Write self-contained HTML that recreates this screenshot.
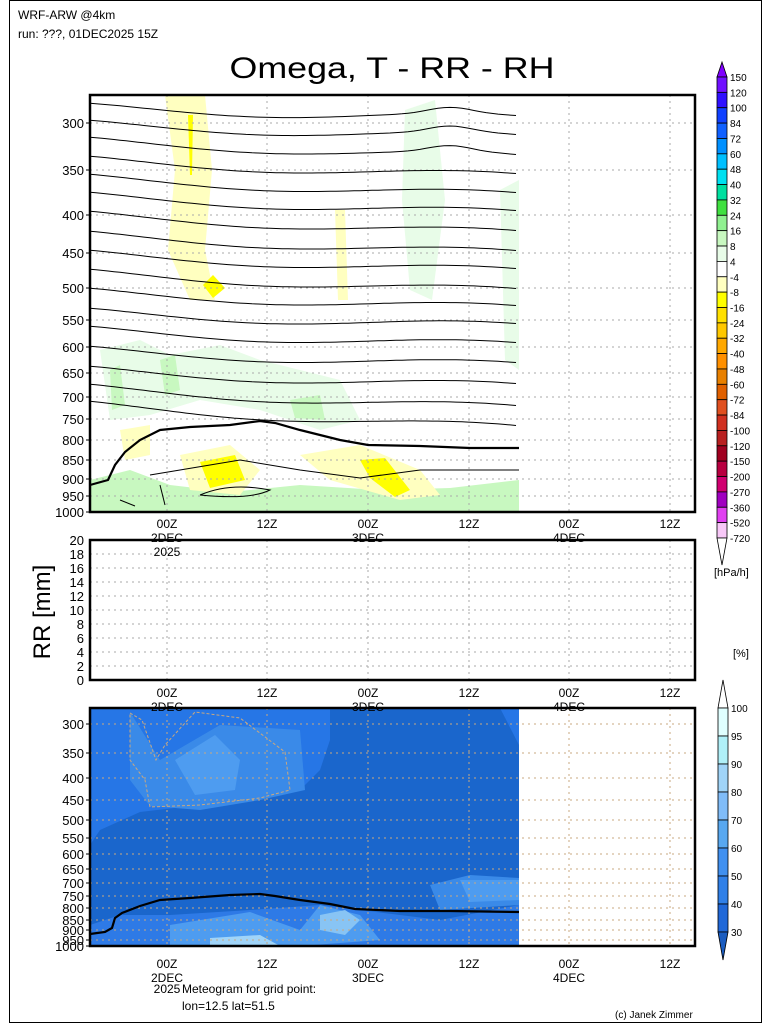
<!DOCTYPE html>
<html><head><meta charset="utf-8">
<style>
body{margin:0;background:#fff;}
svg{display:block;font-family:"Liberation Sans",sans-serif;}
text{fill:#000;}
</style></head><body>
<svg id="s" width="768" height="1024" viewBox="0 0 768 1024" xmlns="http://www.w3.org/2000/svg">
<rect x="9.5" y="0.5" width="752" height="1022" fill="#fff" stroke="#000" stroke-width="1"/>
<text x="18" y="19" font-size="12">WRF-ARW @4km</text>
<text x="18" y="38" font-size="12">run: ???, 01DEC2025 15Z</text>
<text x="392" y="78" font-size="30" text-anchor="middle" textLength="325" lengthAdjust="spacingAndGlyphs">Omega, T - RR - RH</text>

<g id="top">
<rect x="90" y="95" width="429" height="417" fill="#fff"/>
<polygon points="90,480 130,470 170,485 230,492 300,485 380,490 450,488 519,480 519,512 90,512" fill="#c8f8c0"/>
<polygon points="165,95 205,95 212,170 205,250 215,300 190,300 168,250 175,170" fill="#ffffc0"/>
<polygon points="188,115 193,115 192,175 190,175" fill="#ffff00"/>
<polygon points="203,285 213,275 225,288 213,298" fill="#ffff00"/>
<polygon points="405,110 435,100 445,200 432,300 410,290 402,200" fill="#e8fce8"/>
<polygon points="500,190 519,180 519,370 505,360" fill="#e8fce8"/>
<polygon points="335,210 345,210 348,300 338,300" fill="#ffffc0"/>
<polygon points="100,350 140,340 170,355 220,345 260,360 300,370 340,380 360,420 320,430 260,410 200,400 150,415 110,420" fill="#e8fce8"/>
<polygon points="110,370 120,365 125,405 112,410" fill="#c8f8c0"/>
<polygon points="160,360 175,355 180,390 165,395" fill="#c8f8c0"/>
<polygon points="290,400 320,395 325,420 295,418" fill="#c8f8c0"/>
<polygon points="180,455 230,445 260,470 240,495 190,490" fill="#ffffc0"/>
<polygon points="200,462 235,455 245,480 210,488" fill="#ffff00"/>
<polygon points="300,455 360,445 420,470 440,495 400,500 330,480" fill="#ffffc0"/>
<polygon points="360,460 385,458 410,490 395,497 370,478" fill="#ffff00"/>
<polygon points="120,430 150,425 150,455 125,460" fill="#ffffc0"/>
</g>
<g id="grid" stroke="#aaa" stroke-dasharray="2,4" stroke-width="1"></g>
<g id="iso" fill="none" stroke="#000" stroke-width="1"></g>
<path d="M90,485 L108,480 L115,465 L125,452 L140,440 L160,430 L190,427 L230,425 L260,421 L275,423 L300,430 L340,440 L368,445 L420,446 L470,448 L519,448" fill="none" stroke="#000" stroke-width="2.2"/>
<path d="M150,475 L180,470 L240,460 L300,470 L360,478 L420,470 L519,470" fill="none" stroke="#000" stroke-width="1"/>
<path d="M200,495 Q230,482 270,490 Q250,500 200,495" fill="none" stroke="#000" stroke-width="1"/>
<path d="M160,485 L165,505 M120,500 L135,506" fill="none" stroke="#000" stroke-width="1"/>
<rect x="90" y="95" width="605" height="417" fill="none" stroke="#000" stroke-width="2.5"/>

<rect x="90" y="540" width="605" height="140" fill="none" stroke="#000" stroke-width="2.5"/>
<text x="0" y="0" font-size="24" transform="translate(50,612) rotate(-90)" text-anchor="middle">RR [mm]</text>

<g id="rh">
<rect x="90" y="708" width="429" height="238" fill="#1a66cc"/>
<polygon points="90,708 330,708 330,740 320,770 300,790 250,800 200,805 140,812 100,830 90,845" fill="#2676e6"/>
<polygon points="130,712 160,760 220,725 300,730 305,790 260,800 200,810 150,806 130,780" fill="#3a8ae8"/>
<polygon points="175,760 215,735 240,760 235,790 195,795" fill="#4e9cf0"/>
<polygon points="90,925 120,915 170,915 250,910 320,905 400,915 440,920 519,905 519,946 90,946" fill="#2e7ae6"/>
<polygon points="170,925 250,912 300,930 320,905 360,915 380,940 300,946 170,946" fill="#4e9cf0"/>
<polygon points="320,915 345,910 360,920 345,935 320,930" fill="#88c4f4"/>
<polygon points="210,938 260,935 280,946 210,946" fill="#a0d4f8"/>
<polygon points="430,885 470,875 519,878 519,905 440,910" fill="#3a8ae8"/>
<polygon points="460,880 519,880 519,900 470,902" fill="#4e9cf0"/>
<polygon points="500,708 519,708 519,745" fill="#2676e6"/>
</g>
<g id="grid2" stroke="#c8a880" stroke-dasharray="2,4" stroke-width="1"></g>
<path d="M90,934 L105,932 L112,928 L115,918 L122,913 L140,906 L160,900 L190,898 L230,895 L260,894 L275,896 L300,900 L330,904 L355,909 L400,911 L450,911 L519,912" fill="none" stroke="#000" stroke-width="2.2"/>
<path d="M130,713 L142,720 L156,760 L165,745 L195,712 L240,718 L285,752 L290,790 L260,798 L200,805 L150,807 L145,780 L130,760 Z" fill="none" stroke="#c8a880" stroke-width="1" stroke-dasharray="3,2"/>
<rect x="90" y="708" width="605" height="238" fill="none" stroke="#000" stroke-width="2.5"/>

<g id="lbl" font-size="12"></g>

<g id="cb1" stroke="#000" stroke-width="0.8"></g>
<text x="714" y="576" font-size="11">[hPa/h]</text>
<text x="733" y="657" font-size="11">[%]</text>
<g id="cb2" stroke="#000" stroke-width="0.8"></g>

<text x="167" y="993" font-size="12" text-anchor="middle">2025</text>
<text x="182" y="993" font-size="12">Meteogram for grid point:</text>
<text x="182" y="1010" font-size="12">lon=12.5 lat=51.5</text>
<text x="615" y="1018" font-size="10">(c) Janek Zimmer</text>
</svg>
<script>
var NS="http://www.w3.org/2000/svg";
function el(p,t,a,txt){var e=document.createElementNS(NS,t);for(var k in a)e.setAttribute(k,a[k]);if(txt!=null)e.textContent=txt;document.getElementById(p).appendChild(e);return e;}
var P=[300,350,400,450,500,550,600,650,700,750,800,850,900,950,1000];
var Y1=[123,170,215,253,288,320,347,373,397,419,440,460,479,496,512];
var Y2=[724,753,778,800,820,838,854,869,883,896,908,920,930,940,946];
var TX=[167,267,368,469,569,670];
var TL=["00Z","12Z","00Z","12Z","00Z","12Z"];
Y1.forEach(function(y,i){if(i<14)el("grid","line",{x1:90,x2:695,y1:y,y2:y});});
TX.forEach(function(x){el("grid","line",{x1:x,x2:x,y1:95,y2:512});});
for(var v=2;v<20;v+=2){var y=680-v*7;el("grid","line",{x1:90,x2:695,y1:y,y2:y});}
TX.forEach(function(x){el("grid","line",{x1:x,x2:x,y1:540,y2:680});});
Y2.forEach(function(y,i){if(i<14)el("grid2","line",{x1:90,x2:695,y1:y,y2:y});});
TX.forEach(function(x){el("grid2","line",{x1:x,x2:x,y1:708,y2:946});});
var L=[107,124,141,160,178,196,215,235,254,273,292,312,330,350,370,388,405];
var R=[120,139,159,178,197,215,235,255,273,293,310,328,347,367,388,410,430];
for(var i=0;i<L.length;i++){var d="";for(var x=90;x<=519;x+=6){var t=(x-90)/429;var y=L[i]+(R[i]-L[i])*t+5*Math.sin((x-150)/70)-(i<3?6*Math.exp(-Math.pow((x-450)/30,2)):0);d+=(x==90?"M":"L")+x+","+y.toFixed(1);}el("iso","path",{d:d});}
function yl(ys,lo){P.forEach(function(p,i){el("lbl","text",{x:84,y:ys[i]+5,"text-anchor":"end","font-size":lo},p);el("lbl","line",{x1:86,x2:90,y1:ys[i],y2:ys[i],stroke:"#000"});});}
yl(Y1,13);yl(Y2,13);
for(var v=0;v<=20;v+=2){var y=680-v*7;el("lbl","text",{x:84,y:y+5,"text-anchor":"end","font-size":13},v);}
function xl(y0,dec){TX.forEach(function(x,i){el("lbl","text",{x:x,y:y0,"text-anchor":"middle"},TL[i]);});if(dec){el("lbl","text",{x:167,y:y0+14,"text-anchor":"middle"},"2DEC");el("lbl","text",{x:368,y:y0+14,"text-anchor":"middle"},"3DEC");el("lbl","text",{x:569,y:y0+14,"text-anchor":"middle"},"4DEC");}}
xl(528,true);el("lbl","text",{x:167,y:556,"text-anchor":"middle"},"2025");
xl(697,true);xl(968,true);
var c1=["#7010ff","#3010ff","#1040ff","#1060ff","#0090ff","#00c0ff","#00e0f0","#00e0a0","#40e040","#90f090","#c8f8c0","#e8fce8","#ffffff","#ffffc0","#ffff00","#ffe000","#ffc800","#ffa800","#ff9000","#e88000","#e06000","#e05020","#d03020","#b82020","#a00020","#b80040","#d00070","#a000c0","#e040f0","#f8c8f8"];
var l1=["150","120","100","84","72","60","48","40","32","24","16","8","4","-4","-8","-16","-24","-32","-40","-48","-60","-72","-84","-100","-120","-150","-200","-270","-360","-520","-720"];
var h=(538-77)/30;
el("cb1","polygon",{points:"717,77 727,77 722,62",fill:"#8000ff"});
c1.forEach(function(c,i){el("cb1","rect",{x:717,y:77+i*h,width:10,height:h,fill:c});});
el("cb1","polygon",{points:"717,538 727,538 722,565",fill:"#fff"});
l1.forEach(function(t,i){el("lbl","text",{x:730,y:77+i*h+4,"font-size":10},t);});
var c2=["#e0ffff","#b0f0f8","#a0d4f8","#80bcf8","#58a8f0","#4090f0","#3080e8","#2068d8"];
var l2=["100","95","90","80","70","60","50","40","30"];
var h2=(932-708)/8;
el("cb2","polygon",{points:"718,708 728,708 723,680",fill:"#fff"});
c2.forEach(function(c,i){el("cb2","rect",{x:718,y:708+i*h2,width:10,height:h2,fill:c});});
el("cb2","polygon",{points:"718,932 728,932 723,960",fill:"#1a5cc0"});
l2.forEach(function(t,i){el("lbl","text",{x:731,y:708+i*h2+4,"font-size":10},t);});
</script>
</body></html>
